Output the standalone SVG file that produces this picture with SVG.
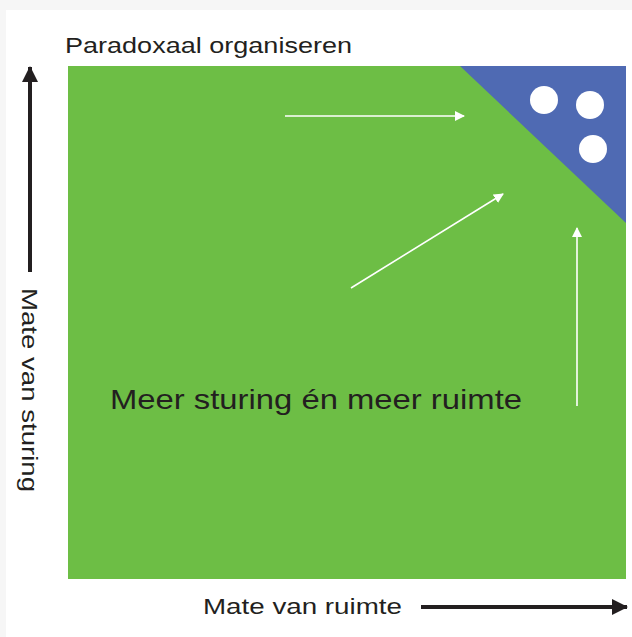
<svg xmlns="http://www.w3.org/2000/svg" width="632" height="637" viewBox="0 0 632 637">
<style>
.lbl{font-family:"Liberation Sans",Arial,sans-serif;fill:#231f20}
.wa{stroke:#fff;stroke-width:1.6;fill:none}
.ba{stroke:#231f20;stroke-width:4;fill:none}
</style>
<defs>
<marker id="wh" markerWidth="10" markerHeight="10" refX="9" refY="5" orient="auto" markerUnits="userSpaceOnUse"><path d="M0,0 L10,5 L0,10 Z" fill="#fff"/></marker>
<marker id="bh" markerWidth="16" markerHeight="16" refX="15" refY="8" orient="auto" markerUnits="userSpaceOnUse"><path d="M0,0 L16,8 L0,16 Z" fill="#231f20"/></marker>
</defs>
<rect x="0" y="0" width="632" height="637" fill="#f6f6f6"/>
<rect x="6" y="10" width="626" height="627" fill="#fff"/>
<g id="field">
<rect x="68" y="66" width="558" height="513" fill="#6dbe45"/>
<polygon points="460,66 626,66 626,223" fill="#4f6ab3"/>
<circle cx="544" cy="100" r="14" fill="#fff"/>
<circle cx="590" cy="105" r="14" fill="#fff"/>
<circle cx="593" cy="149" r="14" fill="#fff"/>
</g>
<g id="connectors">
<line class="wa" x1="285" y1="116" x2="464" y2="116" marker-end="url(#wh)"/>
<line class="wa" x1="351" y1="288" x2="503" y2="194" marker-end="url(#wh)"/>
<line class="wa" x1="577" y1="406" x2="577" y2="228" marker-end="url(#wh)"/>
<line class="ba" x1="421" y1="607" x2="627" y2="607" marker-end="url(#bh)"/>
<line class="ba" x1="30" y1="272" x2="30" y2="67" marker-end="url(#bh)"/>
</g>
<g id="title"><text class="lbl" x="65" y="53" font-size="21.5" textLength="287" lengthAdjust="spacingAndGlyphs">Paradoxaal organiseren</text></g>
<g id="center"><text class="lbl" x="110" y="409" font-size="28" textLength="412" lengthAdjust="spacingAndGlyphs">Meer sturing én meer ruimte</text></g>
<g id="xlabel"><text class="lbl" x="203" y="614" font-size="21.5" textLength="199" lengthAdjust="spacingAndGlyphs">Mate van ruimte</text></g>
<g id="ylabel"><text class="lbl" transform="translate(22,288) rotate(90)" x="0" y="0" font-size="21.5" textLength="204" lengthAdjust="spacingAndGlyphs">Mate van sturing</text></g>
</svg>
